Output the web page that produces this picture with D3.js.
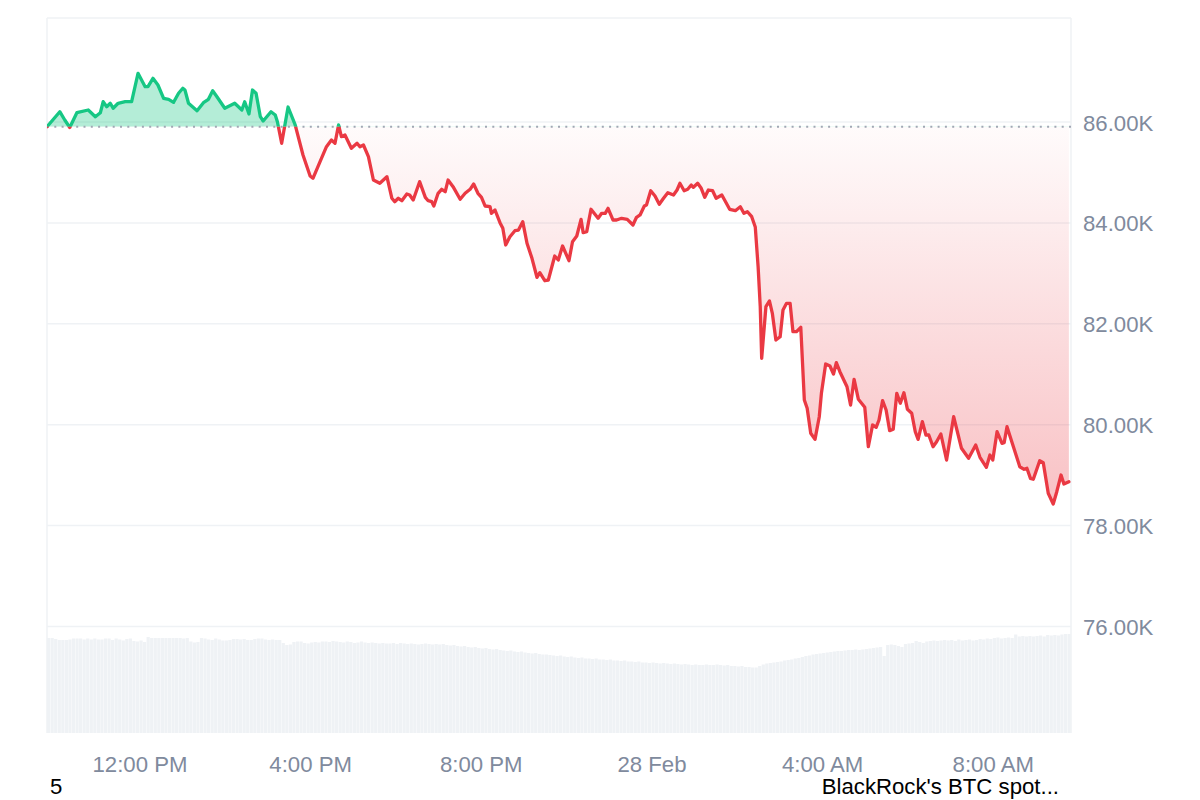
<!DOCTYPE html>
<html>
<head>
<meta charset="utf-8">
<script src="https://cdn.jsdelivr.net/npm/d3@7"></script>
<style>
  html, body { margin: 0; padding: 0; background: #ffffff; }
  svg { display: block; }
</style>
</head>
<body>
<svg id="chart" width="1200" height="800"></svg>
<script>
// ---------------- DATA ----------------
// minutes after 27 Feb 09:50
const priceMinutes = [0,18,25,32,42,58,68,75,79,84,89,93,100,110,119,128,138,142,149,156,164,171,178,185,191,194,199,211,220,227,233,239,250,264,274,278,284,289,294,300,304,315,321,324,330,339,349,360,370,374,384,393,400,405,410,414,419,428,436,440,445,452,459,468,478,485,489,494,499,506,510,515,524,532,536,541,544,550,555,560,564,571,581,588,595,600,606,611,616,623,625,630,637,641,645,651,658,663,669,675,682,689,693,700,705,714,719,725,734,739,745,751,754,759,765,775,780,785,789,796,801,808,816,824,829,834,840,843,849,855,861,867,873,881,886,890,896,901,906,909,915,920,925,930,936,941,949,960,968,975,980,985,991,996,1000,1003,1005,1011,1016,1020,1025,1031,1035,1040,1045,1049,1054,1060,1065,1069,1074,1080,1086,1089,1095,1101,1106,1110,1115,1125,1130,1135,1141,1150,1155,1161,1166,1170,1175,1180,1185,1190,1195,1200,1205,1210,1216,1221,1225,1231,1236,1240,1246,1251,1257,1265,1275,1286,1296,1306,1312,1321,1326,1330,1336,1343,1346,1350,1359,1368,1374,1378,1383,1387,1396,1401,1408,1415,1420,1426,1430,1437];
// BTC price in USD
const priceValues = [85907,86204,86040,85891,86184,86238,86105,86184,86402,86303,86371,86272,86371,86402,86402,86965,86700,86700,86866,86733,86470,86450,86390,86569,86668,86634,86371,86224,86383,86450,86620,86501,86272,86371,86238,86402,86159,86634,86569,86105,86020,86204,86139,86006,85578,86297,85941,85346,84930,84884,85213,85510,85643,85578,85941,85709,85742,85479,85578,85510,85544,85312,84850,84785,84916,84488,84420,84488,84440,84573,84553,84454,84817,84507,84440,84420,84335,84587,84666,84618,84850,84718,84468,84587,84666,84771,84587,84507,84335,84321,84190,84256,84004,83893,83562,83726,83845,83859,84024,83596,83298,82922,83013,82854,82868,83344,83265,83542,83251,83627,83740,84071,83806,83826,84270,84091,84190,84190,84289,84057,84057,84091,84071,83958,84111,84157,84335,84355,84638,84533,84369,84488,84599,84553,84652,84785,84638,84666,84751,84706,84785,84686,84507,84652,84638,84488,84553,84270,84242,84321,84190,84222,84123,83919,83132,82339,81316,82339,82452,82208,81679,81744,82273,82406,82406,81843,81843,81931,80489,80325,79829,79710,80158,80622,81203,81163,81005,81229,81050,80753,80390,80900,80503,80345,79564,79994,79948,80093,80476,80291,79881,79909,80622,80424,80634,80305,80226,79861,79710,80059,79796,79796,79564,79663,79816,79300,80158,79532,79334,79597,79354,79155,79399,79300,79861,79631,79643,79960,79564,79167,79116,79136,78937,78918,79286,79247,78640,78428,78672,79003,78824,78870];
// 5-minute volume bars (relative units, 0-100)
const volumeValues = [
  95,95,94,93,93,93,93.5,94.5,94.5,94.5,93.5,94.5,
  93.5,94.5,93.5,93.5,94.5,94.5,93,94.5,93.5,92.5,94,94.5,
  92,91.5,92.5,91,96,95,95,95,95,95,95,95,
  95,95,94.5,95,91.5,90.5,91,95,94.5,93.5,93,94.5,
  93.5,92.5,92.5,93,94,94,93.5,94,93,93,94,94.5,
  94.5,93.5,93,93.5,93,93,90,88,88.5,91,91.5,91.5,
  90,89.5,90.5,91,90.5,91.5,91.5,91,92,91.5,91,90.5,
  91.5,91,90,90.5,91.5,90.5,90,90.5,90,89.5,90,89.5,
  89.5,90,89,90,89.5,89,89.5,89,88.5,89,89.5,89,
  88.5,89,88.5,89,88,87.5,88,87,86.5,87,86,85.5,
  86,85,84.5,85,84,83.5,84,83,82.5,82,82.5,81.5,
  81,81.5,80.5,80,79.5,80,79,78.5,78.5,78,77.5,77,
  77.5,76.5,76,76.5,75.5,75,75.5,74.5,74.5,74,74.5,73.5,
  73.5,73,73.5,72.5,72.5,72,72.5,71.5,71.5,71,71.5,70.5,
  70.5,70,70.5,70,69.5,70,69.5,69,69.5,69,68.5,69,
  68.5,68,68.5,68,68,68.5,68,68,68.5,68,67.5,68,
  67,67,66.5,67,66,66,65.5,65.5,67,68.5,69.5,70,
  70.5,71,71.5,72.5,73,73.5,74.5,75,76,77,77.5,78.5,
  79,79.5,80,80.5,81,81.5,82,82,82.5,83,83,83.5,
  83,83.5,84,84.5,85,85.5,86,77,88,88.5,88,87,
  86,89,89.5,90,92,91,90,91.5,92,92.5,92,92.5,
  93,92.5,93,92,93.5,92.5,93,93.5,92.5,93,94,93.5,
  94.5,94,95,95.5,94.5,95,95.5,95,98.5,96.5,97,96.5,
  97,96.5,97,97.5,96.5,98,97.5,98,97.5,98.5,99,99
];
const yTickValues = [76000, 78000, 80000, 82000, 84000, 86000];
const xTickHours = [[27,12],[27,16],[27,20],[28,0],[28,4],[28,8]];
const xTickLabels = ["12:00 PM", "4:00 PM", "8:00 PM", "28 Feb", "4:00 AM", "8:00 AM"];
const footLeft = "5";
const footRight = "BlackRock's BTC spot...";

// ---------------- CHART ----------------
const svg = d3.select("#chart");
const FONT = "'Liberation Sans', Arial, Helvetica, sans-serif";
const FS = "22.2px";
const GREEN = "#16c784", RED = "#ea3943";
const L = 47, R = 1071, T = 18, B = 733;

const start = new Date(2025, 1, 27, 9, 50);
const tAt = m => new Date(start.getTime() + m * 60000);
const x = d3.scaleTime().domain([start, tAt(1440)]).range([L, R]);
const y = d3.scaleLinear().domain([76000, 86000]).range([626.5, 122]);
const yv = d3.scaleLinear().domain([0, 100]).range([B, 633]);

const data = priceMinutes.map((m, i) => ({ t: tAt(m), v: priceValues[i] }));
const base = priceValues[0];
const baseY = y(base);

// gridlines
svg.append("g").selectAll("line").data(yTickValues).join("line")
  .attr("x1", L).attr("x2", R)
  .attr("y1", d => y(d)).attr("y2", d => y(d))
  .attr("stroke", "#eff2f5").attr("stroke-width", 1.5);

// borders
const border = svg.append("g").attr("stroke", "#eff2f5").attr("stroke-width", 1.5).attr("fill", "none");
border.append("line").attr("x1", L).attr("x2", R).attr("y1", T).attr("y2", T);
border.append("line").attr("x1", L).attr("x2", L).attr("y1", T).attr("y2", B);
border.append("line").attr("x1", R).attr("x2", R).attr("y1", T).attr("y2", B);

// volume bars
const step = x(tAt(5)) - x(tAt(0));
svg.append("g").selectAll("rect").data(volumeValues).join("rect")
  .attr("x", (d, i) => x(tAt(i * 5)))
  .attr("width", step - 0.35)
  .attr("y", d => yv(d))
  .attr("height", d => B - yv(d))
  .attr("fill", "#eff2f5");

// defs
const defs = svg.append("defs");
defs.append("clipPath").attr("id", "clipUp").append("rect")
  .attr("x", L).attr("y", T).attr("width", R - L).attr("height", baseY - T);
defs.append("clipPath").attr("id", "clipDown").append("rect")
  .attr("x", L).attr("y", baseY).attr("width", R - L).attr("height", B - baseY);
const minY = y(d3.min(priceValues));
const grad = defs.append("linearGradient").attr("id", "redGrad")
  .attr("gradientUnits", "userSpaceOnUse")
  .attr("x1", 0).attr("x2", 0).attr("y1", baseY).attr("y2", minY);
grad.append("stop").attr("offset", 0).attr("stop-color", RED).attr("stop-opacity", 0.02);
grad.append("stop").attr("offset", 1).attr("stop-color", RED).attr("stop-opacity", 0.31);

const area = d3.area().x(d => x(d.t)).y0(baseY).y1(d => y(d.v));
const line = d3.line().x(d => x(d.t)).y(d => y(d.v));

svg.append("path").datum(data).attr("d", area)
  .attr("fill", GREEN).attr("fill-opacity", 0.32).attr("clip-path", "url(#clipUp)");
svg.append("path").datum(data).attr("d", area)
  .attr("fill", "url(#redGrad)").attr("clip-path", "url(#clipDown)");

// dotted baseline
svg.append("line").attr("x1", L).attr("x2", R).attr("y1", baseY).attr("y2", baseY)
  .attr("stroke", "#a1a7b4").attr("stroke-width", 2).attr("stroke-dasharray", "2,5.3");

svg.append("path").datum(data).attr("d", line)
  .attr("fill", "none").attr("stroke", GREEN).attr("stroke-width", 3.3)
  .attr("stroke-linejoin", "round").attr("stroke-linecap", "round")
  .attr("clip-path", "url(#clipUp)");
svg.append("path").datum(data).attr("d", line)
  .attr("fill", "none").attr("stroke", RED).attr("stroke-width", 3.3)
  .attr("stroke-linejoin", "round").attr("stroke-linecap", "round")
  .attr("clip-path", "url(#clipDown)");

// y axis
const yAxis = svg.append("g").attr("transform", `translate(${R},0)`)
  .call(d3.axisRight(y).tickValues(yTickValues).tickSize(0).tickPadding(12)
    .tickFormat(d => (d / 1000).toFixed(2) + "K"));
yAxis.select(".domain").remove();
yAxis.selectAll("text").attr("fill", "#808a9d").style("font-family", FONT).style("font-size", FS)
  .attr("dy", "0.36em");

// x axis
const xTicks = xTickHours.map(([dd, hh]) => new Date(2025, 1, dd, hh, 0));
const xAxis = svg.append("g").attr("transform", `translate(0,${B})`)
  .call(d3.axisBottom(x).tickValues(xTicks).tickSize(0).tickPadding(0)
    .tickFormat((d, i) => xTickLabels[i]));
xAxis.select(".domain").remove();
xAxis.selectAll("text").attr("fill", "#808a9d").style("font-family", FONT).style("font-size", FS)
  .attr("y", 38.5).attr("dy", 0);

// footnotes
svg.append("text").attr("x", 50).attr("y", 794).text(footLeft)
  .attr("fill", "#000").style("font-family", FONT).style("font-size", FS);
svg.append("text").attr("x", 1059).attr("y", 794).attr("text-anchor", "end").text(footRight)
  .attr("fill", "#000").style("font-family", FONT).style("font-size", FS);
</script>
</body>
</html>
